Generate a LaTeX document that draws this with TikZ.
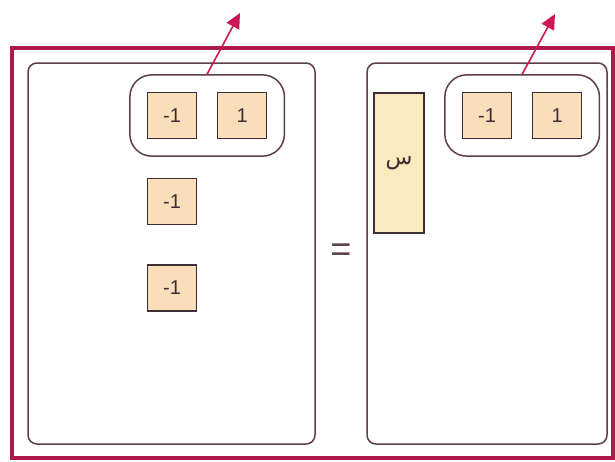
\documentclass[tikz,border=0pt]{standalone}
\usepackage{fontspec}
\setmainfont{Liberation Sans}
\newfontfamily\arabicfont[Script=Arabic]{DejaVu Sans}
\TeXXeTstate=1
\usetikzlibrary{arrows.meta,positioning,fit}
\definecolor{framecolor}{RGB}{176,24,78}
\definecolor{panelcolor}{RGB}{92,62,78}
\definecolor{tilecolor}{RGB}{250,222,186}
\definecolor{barcolor}{RGB}{250,234,190}
\definecolor{arrowcolor}{RGB}{205,22,86}
\definecolor{inkcolor}{RGB}{62,45,52}
\tikzset{
  framebox/.style={draw=framecolor, line width=3.5pt},
  panelbox/.style={draw=panelcolor, line width=1.5pt, rounded corners=9pt},
  groupbox/.style={draw=panelcolor, line width=1.5pt, rounded corners=22pt, inner sep=17pt},
  tile/.style={draw=inkcolor, line width=1.3pt, fill=tilecolor, text=inkcolor,
    minimum width=49pt, minimum height=46pt, inner sep=0pt,
    font=\fontsize{20}{22}\selectfont},
  upto/.style={-{Triangle[length=15pt,width=14pt]}, line width=1.6pt, arrowcolor},
}

\begin{document}
\begin{tikzpicture}[x=1pt, y=-1pt]
    \useasboundingbox (0,0) rectangle (615,461);
    % Outer frame
    \draw[framebox] (12,48) rectangle (613,458);
    % Two sides of the equation
    \node[panelbox, minimum width=287pt, minimum height=381pt] (lside) at (171.5,253.5) {};
    \node[panelbox, minimum width=240pt, minimum height=381pt] (rside) at (487,253.5) {};
    \node[text=panelcolor, font=\fontsize{36}{40}\selectfont] (eq) at (341,253) {=};
    % Left side: zero pair and two tiles
    \node[tile] (lneg) at (172,115.5) {-1};
    \node[tile, right=20pt of lneg] (lpos) {1};
    \node[groupbox, fit=(lneg)(lpos)] (lgrp) {};
    \node[tile, below=39pt of lneg] (ltwo) {-1};
    \node[tile, below=39pt of ltwo] (lthree) {-1};
    % Right side: bar and zero pair
    \node[tile, fill=barcolor, minimum height=140pt, minimum width=50pt,
      font=\fontsize{22}{24}\selectfont] (xbar) at (399,163) {\arabicfont\beginR س\endR};
    \node[tile] (rneg) at (487,115.5) {-1};
    \node[tile, right=20pt of rneg] (rpos) {1};
    \node[groupbox, fit=(rneg)(rpos)] (rgrp) {};
    % Remove the zero pairs
    \coordinate (ltip) at (240,13);
    \coordinate (rtip) at (555,14);
    \draw[upto] (lgrp.north) -- (ltip);
    \draw[upto] (rgrp.north) -- (rtip);
  \end{tikzpicture}
\end{document}
